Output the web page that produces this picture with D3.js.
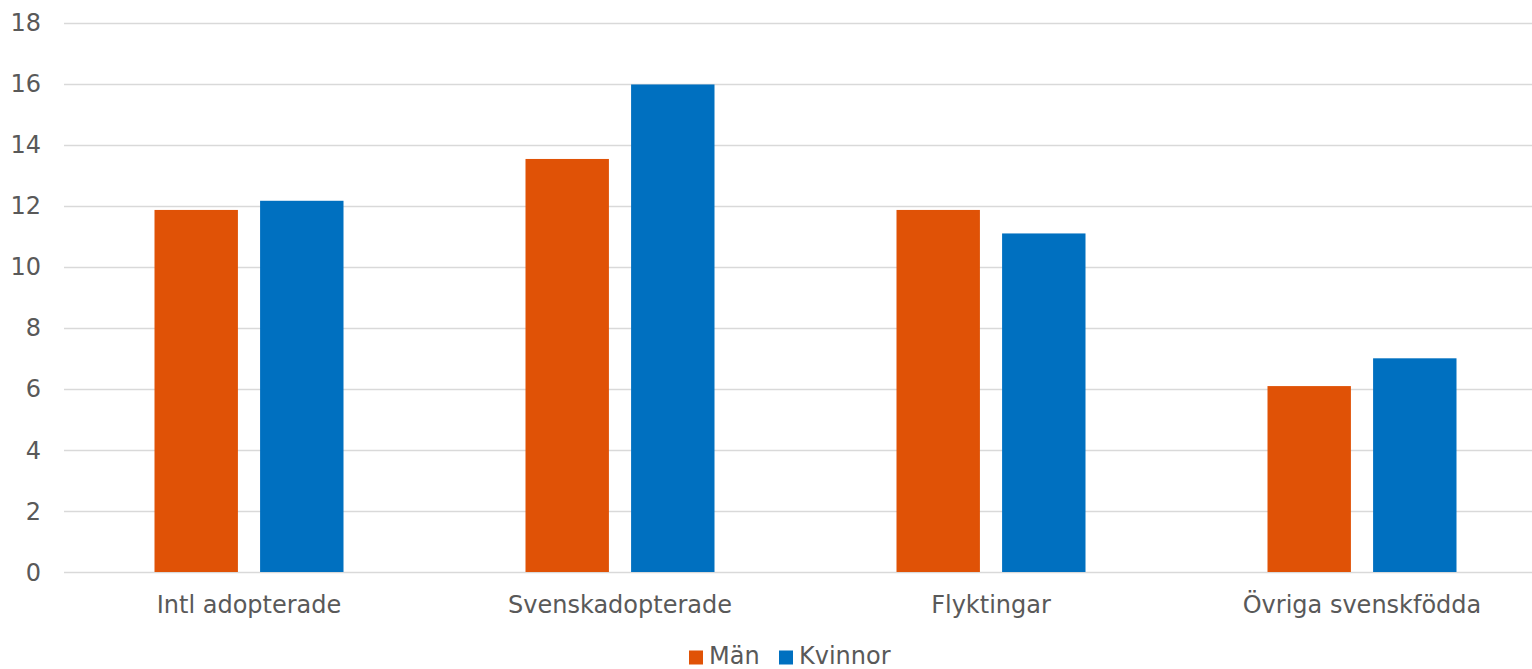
<!DOCTYPE html>
<html><head><meta charset="utf-8">
<script src="https://cdn.jsdelivr.net/npm/d3@7"></script>
<style>body{margin:0;background:#fff;} svg{display:block;}</style>
</head><body>
<svg id="c" width="1532" height="669"></svg>
<script>
const categories = ["Intl adopterade", "Svenskadopterade", "Flyktingar", "Övriga svenskfödda"];
const seriesNames = ["Män", "Kvinnor"];
const man = [11.86, 13.53, 11.86, 6.09];
const kvinnor = [12.16, 15.97, 11.09, 7.0];
const yTicks = [0, 2, 4, 6, 8, 10, 12, 14, 16, 18];
const colors = ["#E05206", "#0070C0"];

const svg = d3.select("#c");
const font = "Verdana, 'DejaVu Sans', sans-serif";
const textColor = "#595959";
const x0 = d3.scaleBand().domain(categories).range([63.5, 1547.5]).paddingInner(0).paddingOuter(0);
const y = d3.scaleLinear().domain([0, 18]).range([572, 22.5]);
const x1 = d3.scaleBand().domain(seriesNames).range([91, 371 - 91]).paddingInner(0.21).paddingOuter(0);

// gridlines
svg.append("g").selectAll("line").data(yTicks).join("line")
  .attr("x1", 64).attr("x2", 1532)
  .attr("y1", d => Math.round(y(d)) + 0.5).attr("y2", d => Math.round(y(d)) + 0.5)
  .attr("stroke", "#d9d9d9").attr("stroke-width", 1.5);

// y labels
svg.append("g").selectAll("text").data(yTicks).join("text")
  .attr("x", 41).attr("y", d => y(d)).attr("dy", "0.36em")
  .attr("text-anchor", "end").attr("font-family", font).attr("font-size", 24)
  .attr("fill", textColor).text(d => d);

const data = categories.map((c, i) => ({cat: c, vals: [man[i], kvinnor[i]]}));
const groups = svg.append("g").selectAll("g").data(data).join("g")
  .attr("transform", d => `translate(${x0(d.cat)},0)`);
groups.selectAll("rect").data(d => d.vals.map((v, j) => ({name: seriesNames[j], v, j}))).join("rect")
  .attr("x", d => x1(d.name)).attr("width", x1.bandwidth())
  .attr("y", d => y(d.v)).attr("height", d => y(0) - y(d.v))
  .attr("fill", d => colors[d.j]);

// x labels
svg.append("g").selectAll("text").data(categories).join("text")
  .attr("x", d => x0(d) + x0.bandwidth() / 2).attr("y", 613)
  .attr("text-anchor", "middle").attr("font-family", font).attr("font-size", 24)
  .attr("fill", textColor).text(d => d);

// legend
const legendX = [689, 779];
const lg = svg.append("g").selectAll("g").data(seriesNames).join("g")
  .attr("transform", (d, i) => `translate(${legendX[i]},0)`);
lg.append("rect").attr("x", 0).attr("y", 650.5).attr("width", 14).attr("height", 14)
  .attr("fill", (d, i) => colors[i]);
lg.append("text").attr("x", 20).attr("y", 664).attr("font-family", font).attr("font-size", 24)
  .attr("fill", textColor).text(d => d);
</script>
</body></html>
